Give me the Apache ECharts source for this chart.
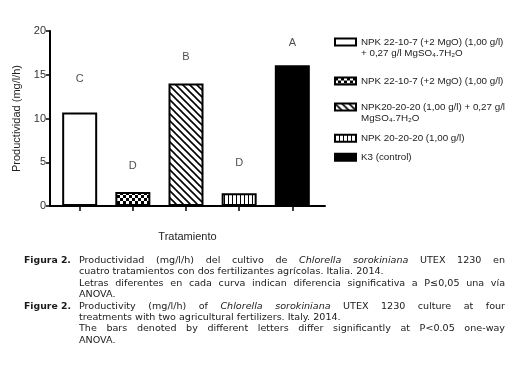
<!DOCTYPE html>
<html><head><meta charset="utf-8">
<script src="https://cdn.jsdelivr.net/npm/echarts@6/dist/echarts.min.js"></script>
<style>html,body{margin:0;padding:0;background:#fff}#c{width:531px;height:383px}</style>
</head><body><div id="c"></div>
<script>
// ---- data ----
const categories = ['T1', 'T2', 'T3', 'T4', 'K3'];
const seriesNames = [
  'NPK 22-10-7 (+2 MgO) (1,00 g/l)\n+ 0,27 g/l MgSO₄.7H₂O',
  'NPK 22-10-7 (+2 MgO) (1,00 g/l)',
  'NPK20-20-20 (1,00 g/l) + 0,27 g/l\nMgSO₄.7H₂O',
  'NPK 20-20-20 (1,00 g/l)',
  'K3 (control)'
];
const productivity = [10.7, 1.6, 14.0, 1.45, 16.1];
const letters = ['C', 'D', 'B', 'D', 'A'];
const letterLevels = [14.5, 4.6, 17.0, 4.95, 18.6];
const yTickValues = [0, 5, 10, 15, 20];
const yAxisTitle = 'Productividad (mg/l/h)';
const xAxisTitle = 'Tratamiento';
const captionLabels = ['Figura 2.', 'Figure 2.'];
const captionLines = [
  { seg: [['Productividad (mg/l/h) del cultivo de ', 0], ['Chlorella sorokiniana', 1], [' UTEX 1230 en', 0]], j: 1 },
  { seg: [['cuatro tratamientos con dos fertilizantes agrícolas. Italia. 2014.', 0]], j: 0 },
  { seg: [['Letras diferentes en cada curva indican diferencia significativa a P≤0,05 una vía', 0]], j: 1 },
  { seg: [['ANOVA.', 0]], j: 0 },
  { seg: [['Productivity (mg/l/h) of ', 0], ['Chlorella sorokiniana', 1], [' UTEX 1230 culture at four', 0]], j: 1 },
  { seg: [['treatments with two agricultural fertilizers. Italy. 2014.', 0]], j: 0 },
  { seg: [['The bars denoted by different letters differ significantly at P<0.05 one-way', 0]], j: 1 },
  { seg: [['ANOVA.', 0]], j: 0 }
];

// ---- patterns ----
function makePattern(kind) {
  const c = document.createElement('canvas');
  const g = c.getContext('2d');
  if (kind === 'checker') {
    c.width = 6; c.height = 6;
    g.fillStyle = '#fff'; g.fillRect(0, 0, 6, 6);
    g.fillStyle = '#000'; g.fillRect(0, 0, 3, 3); g.fillRect(3, 3, 3, 3);
  } else if (kind === 'diag') {
    const s = 7;
    c.width = s; c.height = s;
    g.fillStyle = '#fff'; g.fillRect(0, 0, s, s);
    g.strokeStyle = '#000'; g.lineWidth = 1.6;
    g.beginPath();
    g.moveTo(-1, -1); g.lineTo(s + 1, s + 1);
    g.moveTo(-1, s - 1); g.lineTo(1, s + 1);
    g.moveTo(s - 1, -1); g.lineTo(s + 1, 1);
    g.stroke();
  } else if (kind === 'vert') {
    c.width = 4; c.height = 4;
    g.fillStyle = '#fff'; g.fillRect(0, 0, 4, 4);
    g.fillStyle = '#000'; g.fillRect(0, 0, 1, 4);
  }
  return { image: c, repeat: 'repeat' };
}
const fills = ['#ffffff', makePattern('checker'), makePattern('diag'), makePattern('vert'), '#000000'];

// ---- caption layout (text width calibrated to the reference column) ----
const FAM = 'DejaVu Sans';
const TX = 79, TW = 426, LY0 = 260.5, LSTEP = 11.4;
const mctx = document.createElement('canvas').getContext('2d');
function fontStr(fs, it, b) { return (it ? 'italic ' : '') + (b ? 'bold ' : '') + fs + 'px "' + FAM + '"'; }
function measure(t, fs, it, b) { mctx.font = fontStr(fs, it, b); return mctx.measureText(t).width; }
const FS = Math.round(10 * 305 / measure(captionLines[1].seg[0][0], 10, 0, 0) * 100) / 100;
const BFS = Math.round(FS * 0.97 * 100) / 100;
function textEl(t, x, y, fs, it, b) {
  return { type: 'text', x: x, y: y, silent: true,
    style: { text: t, fontSize: fs, fontFamily: FAM, fontStyle: it ? 'italic' : 'normal',
      fontWeight: b ? 'bold' : 'normal', fill: '#1a1a1a', verticalAlign: 'middle', align: 'left' } };
}
const graphics = [];
captionLines.forEach((ln, k) => {
  const y = LY0 + LSTEP * k;
  const words = [];
  ln.seg.forEach(([t, it]) => t.split(' ').filter(w => w).forEach(w => words.push({ w, it })));
  let sum = 0;
  words.forEach(o => { o.wd = measure(o.w, FS, o.it, 0); sum += o.wd; });
  const sp = measure(' ', FS, 0, 0);
  const gap = ln.j ? (TW - sum) / (words.length - 1) : sp;
  let x = TX;
  words.forEach(o => { graphics.push(textEl(o.w, x, y, FS, o.it, 0)); x += o.wd + gap; });
});
graphics.push(textEl(captionLabels[0], 24, LY0, BFS, 0, 1));
graphics.push(textEl(captionLabels[1], 24, LY0 + LSTEP * 4, BFS, 0, 1));

// ---- chart ----
const LH = 11.5;
const legendCenters = [42, 81, 107, 138.3, 157.3];
const legends = seriesNames.map((n, i) => {
  const two = n.indexOf('\n') >= 0;
  const h = two ? LH * 3 : LH;
  return {
    show: true, orient: 'vertical', left: 334, top: legendCenters[i] - h / 2,
    padding: 0, itemGap: 0, itemWidth: 21, itemHeight: 7, icon: 'rect',
    selectedMode: false, data: [n],
    formatter: two ? (nm => '\n' + nm) : (nm => nm),
    textStyle: { fontFamily: 'Liberation Sans', fontSize: 9.8, color: '#222', lineHeight: LH }
  };
});

const series = seriesNames.map((n, i) => ({
  type: 'bar', name: n, xAxisIndex: 1, yAxisIndex: 1,
  data: categories.map((c, j) => (j === i ? productivity[i] : '-')),
  barWidth: 35, barGap: '-100%',
  itemStyle: { color: fills[i], borderColor: '#000', borderWidth: 2 },
  emphasis: { disabled: true }, silent: true, animation: false
}));
series.push({
  type: 'scatter', xAxisIndex: 1, yAxisIndex: 1, symbolSize: 0, silent: true,
  data: letterLevels.map((v, i) => [categories[i], v]),
  label: { show: true, position: 'inside', formatter: p => letters[p.dataIndex],
    fontFamily: 'Liberation Sans', fontSize: 11, color: '#222' },
  animation: false
});

const chart = echarts.init(document.getElementById('c'), null, { renderer: 'canvas' });
chart.setOption({
  animation: false,
  backgroundColor: '#ffffff',
  grid: [
    { left: 50, top: 31, width: 275, height: 175 },
    { left: 53.1, top: 31, width: 265.8, height: 175 }
  ],
  xAxis: [
    { type: 'value', gridIndex: 0, min: 0, max: 1,
      axisLine: { show: true, lineStyle: { color: '#000', width: 2 } },
      axisTick: { show: false }, axisLabel: { show: false }, splitLine: { show: false },
      name: xAxisTitle, nameLocation: 'middle', nameGap: 25,
      nameTextStyle: { fontFamily: 'Liberation Sans', fontSize: 11, color: '#222' } },
    { type: 'category', gridIndex: 1, data: categories,
      axisLine: { show: false },
      axisTick: { show: true, alignWithLabel: true, length: 5, lineStyle: { color: '#000', width: 1.5 } },
      axisLabel: { show: false }, splitLine: { show: false } }
  ],
  yAxis: [
    { type: 'value', gridIndex: 0, min: yTickValues[0], max: yTickValues[yTickValues.length - 1], interval: 5,
      axisLine: { show: true, lineStyle: { color: '#000', width: 2 } },
      axisTick: { show: true, length: 4, lineStyle: { color: '#000', width: 1.5 } },
      axisLabel: { fontFamily: 'Liberation Sans', fontSize: 11, color: '#333', margin: 4 },
      splitLine: { show: false },
      name: yAxisTitle, nameLocation: 'middle', nameGap: 17,
      nameTextStyle: { fontFamily: 'Liberation Sans', fontSize: 11, color: '#222' } },
    { type: 'value', gridIndex: 1, min: 0, max: 20, show: false, splitLine: { show: false } }
  ],
  legend: legends,
  series: series,
  graphic: graphics
});
</script>
</body></html>
